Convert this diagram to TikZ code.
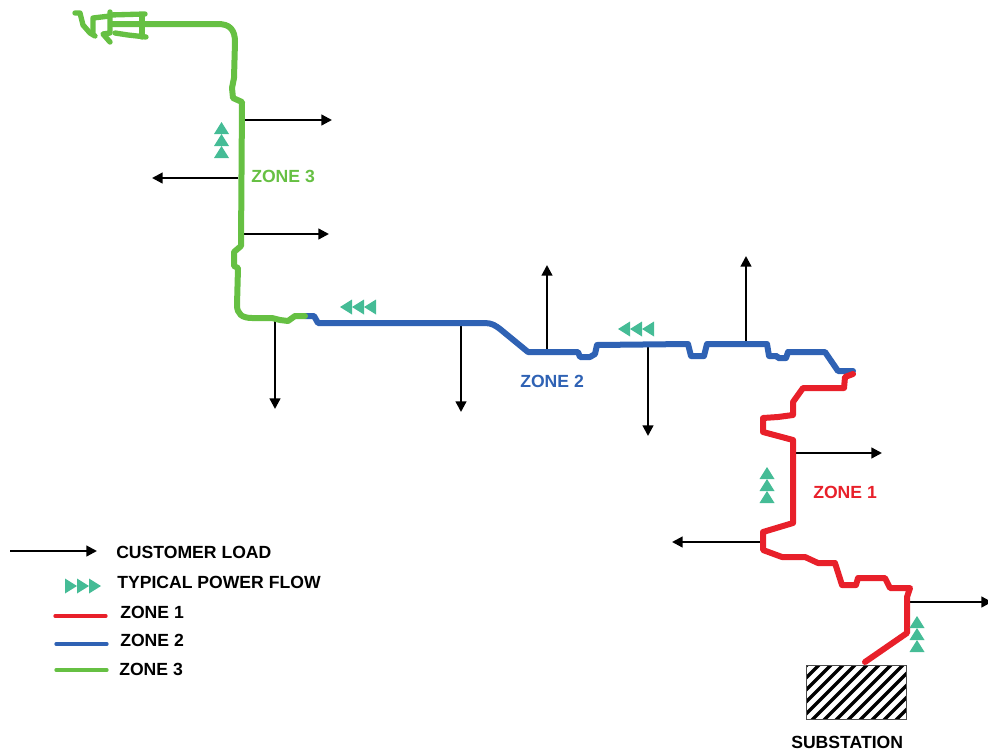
\documentclass[tikz,border=0pt]{standalone}
\usepackage{fontspec}
\setmainfont{Liberation Sans}
\usetikzlibrary{arrows.meta}
\definecolor{zoneone}{HTML}{E8202A}
\definecolor{zonetwo}{HTML}{2F62B4}
\definecolor{zonethree}{HTML}{66C043}
\definecolor{flowc}{HTML}{45BC96}
\tikzset{
  zoneline/.style={line width=4.5pt,line join=round,line cap=round},
  zoneoneline/.style={zoneline,draw=zoneone},
  zonetwoline/.style={zoneline,draw=zonetwo},
  zonethreeline/.style={zoneline,draw=zonethree},
  tangle/.style={zonethreeline,line width=4pt},
  loadarrow/.style={draw=black,line width=1.7pt,-{Triangle[length=8pt,width=8pt]}},
  legendline/.style={line width=2.5pt,line cap=round},
  lbl/.style={font=\bfseries\fontsize{13.2pt}{15pt}\selectfont,inner sep=0pt,anchor=west},
}
\newcommand{\flowup}[2]{\fill[flowc] (#1-7.5,#2+12) -- (#1,#2) -- (#1+7.5,#2+12) -- cycle;}
\newcommand{\flowleft}[2]{\fill[flowc] (#1,#2) -- (#1+12,#2-7.5) -- (#1+12,#2+7.5) -- cycle;}
\newcommand{\flowright}[2]{\fill[flowc] (#1,#2) -- (#1-12,#2-7.5) -- (#1-12,#2+7.5) -- cycle;}
\begin{document}
\begin{tikzpicture}[x=0.75pt,y=-0.75pt]
\useasboundingbox (0,0) rectangle (988,753);
% load arrows
\foreach \n/\a/\b/\c/\d in {l1/244/120/332/120,l2/238/178/152/178,l3/242/234/329/234,l4/275/320/275/409,l5/461/323/461/412,l6/547/352/547/265,l7/648/345/648/436,l8/746/344/746/256,l9/793/453/882/453,l10/763/542/672/542}{
  \coordinate (\n a) at (\a,\b);
  \coordinate (\n b) at (\c,\d);
  \draw[loadarrow] (\n a) -- (\n b);
}
\coordinate (l11a) at (908,602);
\coordinate (l11b) at (992,602);
\draw[loadarrow] (l11a) -- (l11b);
% zone 2
\draw[zonetwoline] (305,316) -- (314,316) -- (318,323) -- (485,323) .. controls (492,323) and (496,326) .. (500,329) -- (528,352) -- (578,352) -- (580,357) -- (590,357) -- (595,354) -- (597,345) -- (688,344) -- (691,356) -- (704,356) -- (707,344) -- (767,344) -- (769,356) -- (777,356) -- (778,358) -- (786,358) -- (788,352) -- (825,352) -- (838,371) -- (853,371);
% zone 1
\draw[zoneoneline] (853,374) -- (845,377) -- (844,388) -- (803,388) -- (793,402) -- (793,415) -- (778,417) -- (763,418) -- (763,432) -- (793,440) -- (793,523) -- (763,532) -- (763,550) -- (782,557) -- (805,557) -- (818,563) -- (835,563) -- (842,585) -- (856,585) -- (858,578) -- (885,578) -- (890,588) -- (910,588) -- (907,597) -- (907,633) -- (865,662);
% zone 3
\draw[zonethreeline] (305,316) -- (295,316) -- (288,321) -- (280,320) -- (272,318) -- (252,318) .. controls (242,318) and (237,314) .. (237,305) -- (238,268) -- (234,266) -- (234,252) -- (241,246) -- (242,102) -- (233,98) -- (232,88) -- (234,78) -- (235,42) .. controls (235,30) and (230,24) .. (218,24) -- (113,24);
\draw[tangle] (75,13) -- (80,13) -- (83,25) -- (90,33) -- (95,36);
\draw[tangle] (93,34) -- (93,18) -- (110,16);
\draw[tangle] (110,12) -- (110,33) -- (103,34) -- (110,42);
\draw[tangle] (110,15) -- (145,14);
\draw[tangle] (113,24) -- (142,24);
\draw[tangle] (115,33) -- (128,35) -- (146,37);
\draw[tangle] (142,15) -- (142,37);
% flow triangles
\flowup{221.5}{122}\flowup{221.5}{134}\flowup{221.5}{146}
\flowup{767}{467}\flowup{767}{479}\flowup{767}{491}
\flowup{917}{616}\flowup{917}{628}\flowup{917}{640}
\flowleft{340}{307}\flowleft{352}{307}\flowleft{364}{307}
\flowleft{618}{329}\flowleft{630}{329}\flowleft{642}{329}
% substation
\node[draw=none,fill=white,minimum width=74.25pt,minimum height=39.75pt,inner sep=0pt] (sub) at (856.5,692.5) {};
\begin{scope}
\clip (sub.south west) rectangle (sub.north east);
\foreach \k in {0,...,15}{
  \draw[black,line width=2.6pt] (735+\k*12,725) -- (735+\k*12+65,660);
}
\end{scope}
\draw[black!70,line width=0.5pt] (sub.south west) rectangle (sub.north east);
% labels
\node[lbl,text=zonethree] (z3) at (251,176) {ZONE 3};
\node[lbl,text=zonetwo] (z2) at (520,381) {ZONE 2};
\node[lbl,text=zoneone] (z1) at (813,492) {ZONE 1};
\node[lbl] (subl) at (791,742) {SUBSTATION};
% legend
\coordinate (lga) at (10,551);
\coordinate (lgb) at (97,551);
\draw[loadarrow] (lga) -- (lgb);
\flowright{77}{586}\flowright{89}{586}\flowright{101}{586}
\coordinate (r1) at (55,616); \coordinate (r2) at (106,616);
\coordinate (b1) at (56,644); \coordinate (b2) at (107,644);
\coordinate (g1) at (56,670); \coordinate (g2) at (107,670);
\draw[legendline,zoneone] (r1) -- (r2);
\draw[legendline,zonetwo] (b1) -- (b2);
\draw[legendline,zonethree] (g1) -- (g2);
\node[lbl] (t1) at (116,552) {CUSTOMER LOAD};
\node[lbl] (t2) at (117,582) {TYPICAL POWER FLOW};
\node[lbl] (t3) at (120,612) {ZONE 1};
\node[lbl] (t4) at (120,640) {ZONE 2};
\node[lbl] (t5) at (119,669) {ZONE 3};
\end{tikzpicture}
\end{document}
